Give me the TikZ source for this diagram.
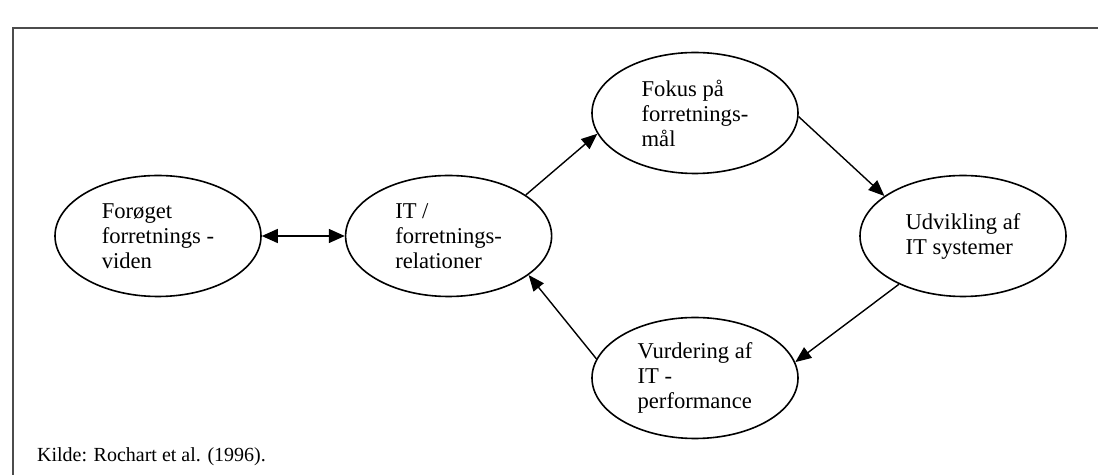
\documentclass[tikz,border=0pt]{standalone}
\usepackage{fontspec}
\setmainfont{Liberation Serif}
\usetikzlibrary{positioning,arrows.meta,shapes.geometric}

\begin{document}
\begin{tikzpicture}[
  x=0.5pt, y=-0.5pt,
  node distance=41.5pt,
  bubble/.style={draw, ellipse, line width=0.8pt, minimum width=103pt, minimum height=60.5pt, inner sep=0pt, align=left, font=\fontsize{11.3}{12.5}\selectfont},
  link/.style={line width=0.7pt, -{Triangle[length=8pt,width=6.5pt]}}
]
  \useasboundingbox (0,0) rectangle (1098,475);
  \draw[line width=1pt, black!70] (1098,28) -- (13,28) -- (13,475);
  \node[bubble] (viden) at (158,236) {Forøget\\forretnings -\\viden};
  \node[bubble, right=of viden] (itrel) {IT /\\forretnings-\\relationer};
  \node[bubble] (fokus) at (695,113) {Fokus på\\forretnings-\\mål};
  \node[bubble] (udvikling) at (963,236) {Udvikling af\\IT systemer};
  \node[bubble] (vurdering) at (695,378) {Vurdering af\\IT -\\performance};
  \node[anchor=base west, font=\fontsize{10}{12}\selectfont] (kilde) at (30,462) {Kilde: Rochart et al. (1996).};
  \draw[link, {Triangle[length=8pt,width=7pt]}-{Triangle[length=8pt,width=7pt]}] (viden) -- (itrel);
  \draw[link] (itrel.28) -- (fokus.192);
  \draw[link] (fokus.358) -- (udvikling.153);
  \draw[link] (udvikling.217) -- (vurdering.9);
  \draw[link] (vurdering.169) -- (itrel.334);
\end{tikzpicture}
\end{document}
